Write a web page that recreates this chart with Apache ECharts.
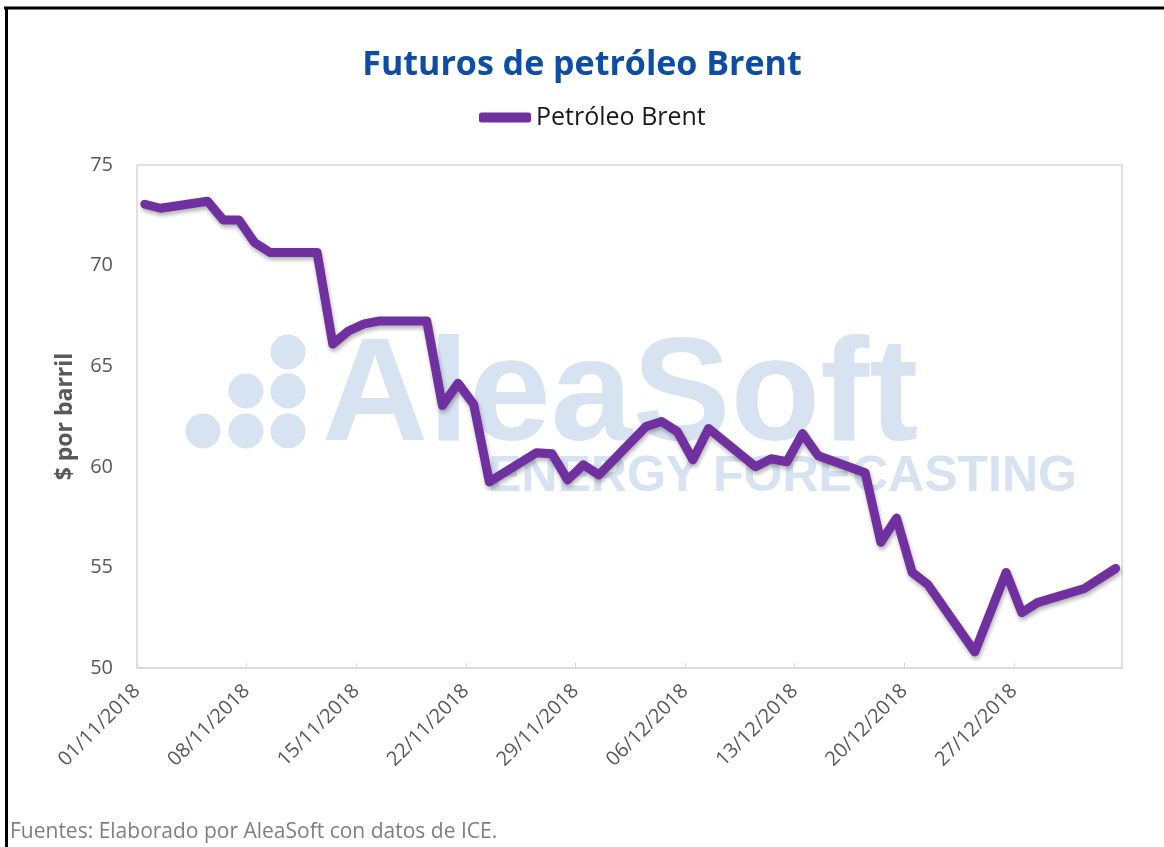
<!DOCTYPE html>
<html>
<head>
<meta charset="utf-8">
<script src="https://cdn.jsdelivr.net/npm/echarts@6/dist/echarts.min.js"></script>
<style>
  html, body { margin: 0; padding: 0; background: #fff; }
  #chart { width: 1164px; height: 847px; }
</style>
</head>
<body>
<div id="chart"></div>
<script>
// trading days and Brent futures close ($/barrel)
var dates = [
  "2018-11-01", "2018-11-02", "2018-11-05", "2018-11-06", "2018-11-07", "2018-11-08", "2018-11-09",
  "2018-11-12", "2018-11-13", "2018-11-14", "2018-11-15", "2018-11-16",
  "2018-11-19", "2018-11-20", "2018-11-21", "2018-11-22", "2018-11-23",
  "2018-11-26", "2018-11-27", "2018-11-28", "2018-11-29", "2018-11-30",
  "2018-12-03", "2018-12-04", "2018-12-05", "2018-12-06", "2018-12-07",
  "2018-12-10", "2018-12-11", "2018-12-12", "2018-12-13", "2018-12-14",
  "2018-12-17", "2018-12-18", "2018-12-19", "2018-12-20", "2018-12-21",
  "2018-12-24", "2018-12-26", "2018-12-27", "2018-12-28",
  "2018-12-31", "2019-01-02"
];
var brent = [
  73.05, 72.85, 73.2, 72.27, 72.27, 71.15, 70.65,
  70.65, 66.1, 66.75, 67.1, 67.25,
  67.25, 63.05, 64.15, 63.1, 59.25,
  60.7, 60.65, 59.35, 60.1, 59.6,
  62.0, 62.25, 61.75, 60.35, 61.9,
  60.0, 60.4, 60.25, 61.65, 60.55,
  59.7, 56.25, 57.45, 54.75, 54.15,
  50.8, 54.75, 52.75, 53.25,
  53.95, 54.95
];
var yTicks = { min: 50, max: 75, step: 5 };

var DAY = 86400000;
var start = Date.UTC(2018, 10, 1);
function dayOf(s) {
  var p = s.split("-");
  return (Date.UTC(+p[0], +p[1] - 1, +p[2]) - start) / DAY;
}
function fmtDay(v) {
  var d = new Date(start + v * DAY);
  var dd = ("0" + d.getUTCDate()).slice(-2);
  var mm = ("0" + (d.getUTCMonth() + 1)).slice(-2);
  return dd + "/" + mm + "/" + d.getUTCFullYear();
}
// each value sits in the middle of its day
var points = dates.map(function (s, i) { return [dayOf(s) + 0.5, brent[i]]; });

var wm = "#d7e3f1";
var font = "'Open Sans', sans-serif";
var myChart = echarts.init(document.getElementById("chart"));
myChart.setOption({
  backgroundColor: "#fff",
  textStyle: { fontFamily: font },
  title: {
    text: "Futuros de petróleo Brent",
    left: "center",
    top: 43,
    textStyle: { fontSize: 34, fontWeight: "bold", color: "#0E4DA4", fontFamily: font }
  },
  legend: {
    left: 474,
    top: 100,
    icon: "roundRect",
    itemWidth: 52,
    itemHeight: 10,
    itemGap: 6,
    textStyle: { fontSize: 25, color: "#1a1a1a", fontFamily: font },
    data: ["Petróleo Brent"]
  },
  grid: {
    left: 137, right: 42, top: 165, bottom: 179,
    show: true, borderColor: "#d9d9d9", borderWidth: 1.5
  },
  xAxis: {
    type: "value",
    min: 0,
    max: 62.9,
    interval: 7,
    splitLine: { show: false },
    axisLine: { show: true, lineStyle: { color: "#d9d9d9", width: 1.5 } },
    axisTick: { show: true, inside: true, length: 5, lineStyle: { color: "#d9d9d9" } },
    axisLabel: {
      rotate: 45,
      margin: 20,
      fontSize: 20,
      color: "#595959",
      showMaxLabel: false,
      formatter: function (v) { return fmtDay(v); }
    }
  },
  yAxis: {
    type: "value",
    min: yTicks.min,
    max: yTicks.max,
    interval: yTicks.step,
    name: "$ por barril",
    nameLocation: "middle",
    nameGap: 60,
    nameTextStyle: { fontSize: 23, fontWeight: "bold", color: "#595959", fontFamily: font },
    splitLine: { show: false },
    axisLine: { show: false },
    axisTick: { show: false },
    axisLabel: { fontSize: 20, color: "#595959", margin: 24 }
  },
  graphic: [
    { type: "line", shape: { x1: 4, y1: 8, x2: 1164, y2: 8 }, style: { stroke: "#000", lineWidth: 3 } },
    { type: "line", shape: { x1: 6.5, y1: 7, x2: 6.5, y2: 847 }, style: { stroke: "#000", lineWidth: 3 } },
    { type: "circle", shape: { cx: 288, cy: 352, r: 17.5 }, style: { fill: wm }, z: 0 },
    { type: "circle", shape: { cx: 246, cy: 391, r: 17.5 }, style: { fill: wm }, z: 0 },
    { type: "circle", shape: { cx: 288, cy: 391, r: 17.5 }, style: { fill: wm }, z: 0 },
    { type: "circle", shape: { cx: 203, cy: 431, r: 17.5 }, style: { fill: wm }, z: 0 },
    { type: "circle", shape: { cx: 246, cy: 431, r: 17.5 }, style: { fill: wm }, z: 0 },
    { type: "circle", shape: { cx: 288, cy: 431, r: 17.5 }, style: { fill: wm }, z: 0 },
    {
      type: "text", left: 322, top: 326, z: 0,
      style: { text: "AleaSoft", fill: wm, font: "bold 147px 'Liberation Sans', Arial, sans-serif" }
    },
    {
      type: "text", left: 488, top: 452, z: 0,
      style: { text: "ENERGY FORECASTING", fill: wm, font: "bold 50px 'Liberation Sans', Arial, sans-serif" }
    },
    {
      type: "text", left: 10, top: 822,
      style: { text: "Fuentes: Elaborado por AleaSoft con datos de ICE.", fill: "#7f7f7f", font: "21px 'Open Sans', sans-serif" }
    }
  ],
  series: [
    {
      name: "Petróleo Brent",
      type: "line",
      data: points,
      showSymbol: false,
      symbol: "none",
      z: 5,
      itemStyle: { color: "#7030A0" },
      lineStyle: {
        color: "#7030A0",
        width: 9,
        cap: "round",
        join: "round",
        shadowColor: "rgba(0,0,0,0.3)",
        shadowBlur: 4,
        shadowOffsetX: 1,
        shadowOffsetY: 3
      }
    }
  ]
});
</script>
</body>
</html>
